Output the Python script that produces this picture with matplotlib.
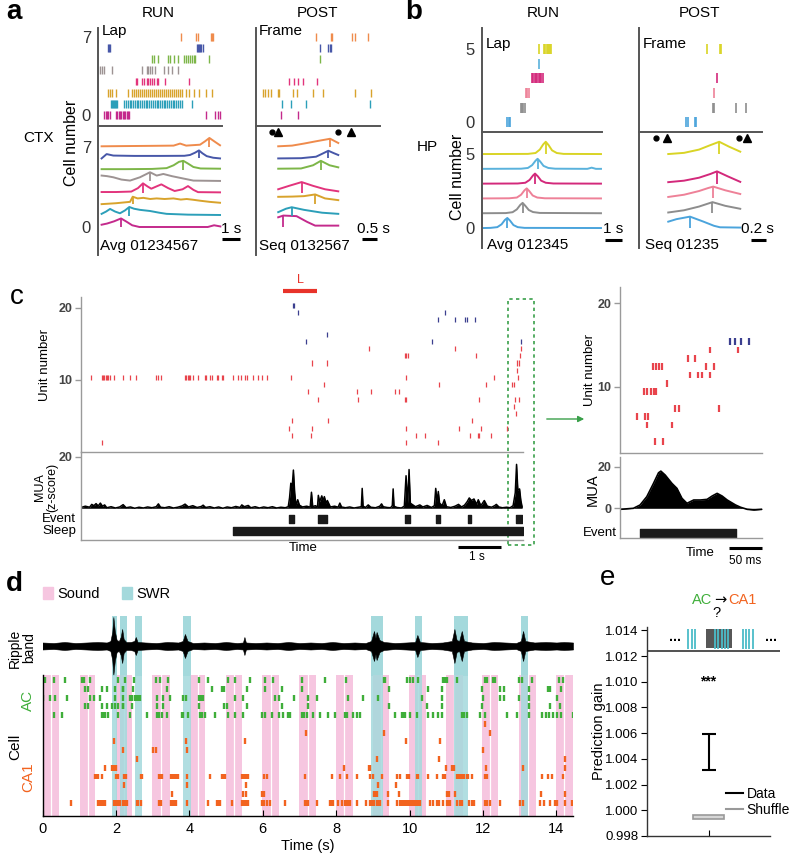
import numpy as np
import matplotlib.pyplot as plt
from matplotlib.lines import Line2D
from matplotlib.patches import Patch, Rectangle

plt.rcParams['font.family'] = ['Liberation Sans', 'DejaVu Sans']

W, H = 800, 856

# ================= a: CTX (time in s, rows = cell 0..7) =================
ctx_colors = ['#c42a8c', '#2c9fb9', '#d8a32c', '#e2347c', '#9d9393', '#7db648', '#4757a8', '#ef8b4c']

ctx_run_spikes = [
    [0.33, 0.42, 0.5, 0.58, 0.67, 1.0, 1.08, 1.15, 1.22, 1.3, 1.38, 1.45, 1.52, 1.6, 1.68, 1.75, 6.0, 6.5, 6.67, 6.78],
    [0.72, 0.78, 0.83, 0.89, 0.94, 1.0, 1.06, 1.44, 1.55, 1.64, 1.76, 1.85, 1.94, 2.06, 2.15, 2.24, 2.36, 2.45,
     2.56, 2.64, 2.75, 2.86, 2.95, 3.04, 3.15, 3.26, 3.35, 3.44, 3.55, 3.66, 3.75, 3.84, 3.96, 4.05, 4.14, 4.25,
     4.36, 4.45, 4.54, 4.66, 5.22],
    [0.56, 0.67, 0.78, 1.0, 1.67, 1.89, 2.0, 2.11, 2.22, 2.33, 2.44, 2.56, 2.67, 2.78, 2.89, 3.0, 3.11, 3.22, 3.33,
     3.44, 3.56, 3.67, 3.78, 3.89, 4.0, 4.11, 4.22, 4.33, 4.44, 4.56, 4.67, 4.89, 5.06, 5.33, 5.61, 6.0, 6.33],
    [2.11, 2.17, 2.44, 2.56, 2.72, 2.78, 2.89, 3.0, 3.11, 3.28, 3.33, 3.72, 5.06],
    [0.11, 0.22, 0.33, 0.78, 2.44, 2.72, 2.78, 2.89, 3.0, 3.17, 3.67, 3.89, 4.11, 4.44],
    [3.0, 3.11, 3.33, 3.89, 4.0, 4.22, 4.44, 4.78, 4.89, 5.0, 5.11, 5.22, 5.33, 5.39, 6.17],
    [0.56, 0.61, 0.67, 5.5, 5.56, 5.61, 5.67, 5.72, 5.83],
    [4.61, 5.44, 5.56, 6.28, 6.33, 6.39],
]
ctx_post_spikes = [
    [0.83, 1.41],
    [0.86, 1.17, 1.66, 3.8],
    [0.22, 0.3, 0.39, 0.5, 0.74, 0.78, 1.24, 1.36, 1.91, 2.24, 3.3, 3.83],
    [1.11, 1.27, 1.41, 1.58, 2.04],
    [],
    [2.14],
    [2.13, 2.41, 2.47, 2.5],
    [1.99, 2.5, 2.52, 3.21, 3.3, 3.72],
]
ctx_run_rows = [0, 1, 2, 3, 4, 5, 6, 7]
ctx_run_t = [
    [0.2, 0.5, 0.9, 1.28, 1.6, 1.9, 2.3, 6.1, 6.45, 6.8],
    [0.2, 0.45, 0.67, 0.95, 1.22, 1.5, 1.74, 2.0, 2.33, 2.89, 3.4, 3.81, 5.0, 6.78],
    [0.2, 1.0, 1.78, 1.93, 2.2, 2.52, 2.9, 3.26, 3.7, 4.19, 4.6, 4.93, 5.3, 5.67, 6.2, 6.78],
    [0.2, 1.0, 1.85, 2.22, 2.5, 2.75, 2.96, 3.25, 3.52, 3.9, 4.26, 4.7, 5.0, 5.3, 5.56, 6.78],
    [0.2, 0.5, 0.85, 1.3, 1.78, 2.33, 2.89, 3.26, 3.63, 4.1, 4.56, 5.3, 6.78],
    [0.2, 1.5, 3.0, 3.81, 4.2, 4.5, 4.74, 5.0, 5.3, 5.7, 6.78],
    [0.2, 0.48, 0.85, 2.0, 3.5, 4.8, 5.11, 5.39, 5.61, 5.8, 6.04, 6.4, 6.78],
    [0.2, 1.5, 3.0, 4.2, 4.56, 4.9, 5.67, 5.95, 6.19, 6.5, 6.78],
]
ctx_run_v = [
    [0.2, 0.3, 0.5, 0.75, 0.45, 0.15, 0.0, 0.0, 0.15, 0.05],
    [0.15, 0.35, 0.58, 0.35, 0.2, 0.45, 0.75, 0.6, 0.5, 0.4, 0.25, 0.15, 0.08, 0.05],
    [0.0, 0.08, 0.2, 0.65, 0.5, 0.55, 0.45, 0.5, 0.45, 0.5, 0.4, 0.45, 0.38, 0.3, 0.2, 0.12],
    [0.06, 0.06, 0.1, 0.4, 0.82, 0.55, 0.35, 0.55, 0.73, 0.4, 0.15, 0.3, 0.58, 0.25, 0.05, 0.03],
    [0.5, 0.45, 0.35, 0.15, 0.06, 0.35, 0.79, 0.5, 0.64, 0.45, 0.3, 0.06, 0.03],
    [0.06, 0.06, 0.08, 0.15, 0.4, 0.7, 0.79, 0.55, 0.25, 0.12, 0.1],
    [0.0, 0.38, 0.25, 0.22, 0.22, 0.23, 0.3, 0.5, 0.7, 0.45, 0.2, 0.06, 0.0],
    [0.06, 0.08, 0.1, 0.12, 0.3, 0.12, 0.2, 0.5, 0.79, 0.45, 0.15],
]
ctx_run_peaks = [1.28, 1.74, 1.93, 2.5, 2.89, 4.74, 5.61, 6.19]
ctx_post_rows = [0, 1, 2, 3, 5, 6, 7]
ctx_post_t = [
    [0.74, 0.91, 1.35, 1.7, 1.97, 2.74],
    [0.74, 1.0, 1.19, 1.6, 2.2, 2.74],
    [0.74, 1.2, 1.6, 1.97, 2.3, 2.74],
    [0.74, 1.1, 1.52, 1.9, 2.3, 2.74],
    [0.74, 1.5, 1.9, 2.16, 2.45, 2.74],
    [0.74, 1.5, 2.0, 2.2, 2.41, 2.6, 2.74],
    [0.74, 1.2, 1.6, 2.0, 2.47, 2.74],
]
ctx_post_v = [
    [0.85, 1.0, 0.95, 0.45, 0.12, 0.12],
    [0.3, 0.6, 0.73, 0.5, 0.25, 0.15],
    [0.64, 0.66, 0.7, 0.85, 0.5, 0.35],
    [0.3, 0.6, 0.93, 0.6, 0.3, 0.12],
    [0.1, 0.12, 0.4, 0.79, 0.4, 0.22],
    [0.0, 0.02, 0.15, 0.4, 0.67, 0.45, 0.3],
    [0.06, 0.12, 0.3, 0.5, 0.72, 0.35],
]
ctx_post_peaks = [0.91, 1.19, 1.97, 1.52, 2.16, 2.41, 2.47]
ctx_frame_dots = [0.52, 2.74]
ctx_frame_tris = [0.72, 3.17]

# ================= b: HP =================
hp_colors = ['#4ba4dc', '#8d8d8d', '#ee8198', '#d3297b', '#5ab2dc', '#d9d425']
hp_run_spikes = [
    [1.49, 1.57, 1.65],
    [2.27, 2.35, 2.43, 2.51],
    [2.59, 2.67, 2.75],
    [2.94, 3.02, 3.1, 3.18, 3.25, 3.33, 3.41, 3.49, 3.57],
    [3.35],
    [3.33, 3.65, 3.72, 3.8, 3.88, 3.94, 4.0, 4.08],
]
hp_post_spikes = [
    [0.63, 0.65, 0.74, 0.76],
    [0.99, 1.0, 1.3, 1.43],
    [1.0],
    [1.04],
    [],
    [0.9, 1.08, 1.09],
]
hp_run_rows = [0, 1, 2, 3, 4, 5]
hp_run_t = [
    [0.1, 0.5, 0.9, 1.15, 1.35, 1.49, 1.65, 1.85, 2.1, 2.5, 7.0],
    [0.1, 1.4, 1.8, 2.05, 2.25, 2.39, 2.55, 2.75, 3.0, 3.4, 7.0],
    [0.1, 1.6, 2.05, 2.3, 2.5, 2.63, 2.78, 2.98, 3.25, 3.7, 7.0],
    [0.1, 2.1, 2.55, 2.8, 3.0, 3.12, 3.28, 3.48, 3.75, 4.2, 7.0],
    [0.1, 2.3, 2.7, 2.95, 3.15, 3.27, 3.42, 3.62, 3.9, 4.3, 6.2, 6.45, 6.7, 7.0],
    [0.1, 2.7, 3.15, 3.4, 3.6, 3.75, 3.92, 4.12, 4.4, 4.8, 7.0],
]
hp_run_v = [
    [0.0, 0.01, 0.06, 0.25, 0.55, 0.68, 0.5, 0.2, 0.06, 0.01, 0.0],
    [0.0, 0.01, 0.07, 0.26, 0.56, 0.7, 0.5, 0.22, 0.08, 0.02, 0.0],
    [0.0, 0.01, 0.06, 0.25, 0.55, 0.68, 0.5, 0.2, 0.06, 0.01, 0.0],
    [0.0, 0.01, 0.06, 0.25, 0.55, 0.68, 0.5, 0.2, 0.06, 0.01, 0.0],
    [0.0, 0.01, 0.06, 0.25, 0.55, 0.68, 0.5, 0.2, 0.06, 0.01, 0.0, 0.08, 0.0, 0.0],
    [0.0, 0.01, 0.07, 0.3, 0.65, 0.83, 0.6, 0.25, 0.07, 0.01, 0.0],
]
hp_run_peaks = [1.49, 2.39, 2.63, 3.12, 3.27, 3.75]
hp_post_rows = [0, 1, 2, 3, 5]
hp_post_t = [
    [0.39, 0.5, 0.68, 0.85, 1.0, 1.08, 1.35],
    [0.39, 0.6, 0.8, 0.92, 0.98, 1.15, 1.35],
    [0.39, 0.6, 0.8, 0.92, 0.99, 1.15, 1.35],
    [0.39, 0.6, 0.8, 0.95, 1.04, 1.18, 1.35],
    [0.39, 0.6, 0.8, 0.95, 1.07, 1.2, 1.35],
]
hp_post_v = [
    [0.43, 0.6, 0.77, 0.45, 0.15, 0.05, 0.03],
    [0.05, 0.2, 0.45, 0.65, 0.75, 0.5, 0.3],
    [0.1, 0.25, 0.5, 0.7, 0.8, 0.55, 0.3],
    [0.1, 0.2, 0.4, 0.65, 0.83, 0.5, 0.12],
    [0.0, 0.08, 0.3, 0.6, 0.83, 0.5, 0.16],
]
hp_post_peaks = [0.68, 0.98, 0.99, 1.04, 1.07]
hp_frame_dots = [0.23, 1.34]
hp_frame_tris = [0.37, 1.44]

# ================= c: unit raster + MUA =================
c_units = [1, 2, 3, 4, 5, 6, 7, 8, 9, 10, 11, 12, 13, 14, 15, 16, 18, 19, 20]
c_spikes = [
    [0.5, 7.56, 8.3],
    [4.9, 5.35, 7.79, 8.0, 9.05, 9.23, 9.26, 9.53],
    [4.84, 5.37, 7.56, 8.79, 9.3, 9.91],
    [4.91, 5.75, 9.09],
    [10.12],
    [10.07],
    [5.52, 6.45, 7.53, 7.57, 9.26, 10.09, 10.18],
    [5.27, 6.41, 6.74, 7.3, 7.4],
    [5.66, 8.33, 9.41, 10.03, 10.07],
    [0.23, 0.48, 0.51, 0.54, 0.57, 0.6, 0.63, 0.67, 0.77, 0.98, 1.14, 1.27, 1.74, 1.8, 1.86, 2.42, 2.45, 2.48,
     2.51, 2.54, 2.61, 2.73, 2.88, 2.91, 3.0, 3.04, 3.16, 3.19, 3.27, 3.31, 3.54, 3.66, 3.72, 3.81, 3.85, 4.01,
     4.11, 4.2, 4.32, 4.88, 7.57, 9.6, 10.16],
    [10.14],
    [5.37, 5.71, 10.14, 10.18],
    [7.53, 7.57, 7.61, 9.19, 10.2],
    [6.7, 8.7, 10.23],
    [5.23, 8.16, 10.24],
    [5.71],
    [8.31, 8.71, 8.93, 8.97, 9.16],
    [5.05, 8.47],
    [4.92, 4.96],
]
mua = [(0.0, 0.3), (0.1, 0.8), (0.2, 0.4), (0.25, 1.5), (0.3, 1.0), (0.35, 1.8), (0.4, 0.9), (0.45, 2.0),
       (0.5, 0.8), (0.55, 1.3), (0.6, 0.2), (0.7, 0.6), (0.8, 0.1), (0.9, 0.5), (0.98, 1.4), (1.05, 0.2),
       (1.15, 0.5), (1.25, 0.0), (1.35, 0.4), (1.45, 0.1), (1.55, 0.5), (1.65, 0.2), (1.75, 0.6), (1.8, 1.7),
       (1.85, 0.4), (1.95, 0.2), (2.05, 0.6), (2.15, 0.1), (2.25, 0.4), (2.35, 0.9), (2.42, 1.6), (2.5, 0.5),
       (2.6, 1.0), (2.7, 0.3), (2.8, 0.7), (2.84, 1.2), (2.9, 0.3), (3.0, 0.6), (3.1, 0.1), (3.2, 0.5),
       (3.3, 0.0), (3.4, 0.5), (3.5, 0.2), (3.6, 0.7), (3.7, 0.3), (3.74, 1.3), (3.8, 0.6), (3.89, 1.1),
       (3.95, 0.2), (4.05, 0.6), (4.15, 0.1), (4.25, 0.5), (4.35, 0.2), (4.45, 0.6), (4.55, 0.1), (4.65, 0.4),
       (4.75, 0.2), (4.82, 0.6), (4.85, 4.0), (4.88, 9.7), (4.91, 8.0), (4.94, 14.8), (4.97, 6.0), (5.0, 1.0),
       (5.04, 3.3), (5.08, 1.2), (5.15, 0.5), (5.25, 0.8), (5.33, 0.4), (5.36, 6.2), (5.39, 0.6), (5.45, 1.0),
       (5.5, 0.5), (5.52, 5.0), (5.55, 2.5), (5.6, 4.8), (5.63, 3.0), (5.66, 4.5), (5.7, 2.0), (5.73, 3.0),
       (5.8, 0.5), (5.9, 0.8), (5.98, 0.4), (6.02, 2.0), (6.06, 0.5), (6.15, 0.2), (6.25, 0.5), (6.35, 0.1),
       (6.45, 0.4), (6.52, 0.6), (6.54, 7.7), (6.56, 0.8), (6.62, 0.3), (6.68, 1.3), (6.74, 0.4), (6.85, 0.2),
       (6.95, 0.8), (6.99, 1.7), (7.03, 0.6), (7.12, 0.3), (7.2, 0.2), (7.24, 1.0), (7.26, 7.5), (7.28, 0.8),
       (7.35, 0.3), (7.45, 0.1), (7.52, 0.8), (7.56, 12.6), (7.6, 2.0), (7.63, 15.0), (7.66, 2.0), (7.7, 1.5),
       (7.78, 0.6), (7.88, 1.3), (7.95, 0.5), (8.05, 1.1), (8.15, 0.3), (8.22, 1.0), (8.25, 7.7), (8.28, 2.5),
       (8.31, 6.5), (8.34, 2.0), (8.4, 1.0), (8.45, 3.3), (8.5, 0.6), (8.6, 0.3), (8.7, 0.8), (8.78, 1.5),
       (8.85, 0.5), (8.92, 1.2), (8.98, 2.5), (9.03, 4.0), (9.08, 3.0), (9.14, 3.6), (9.2, 1.5), (9.24, 3.3),
       (9.3, 1.0), (9.38, 3.0), (9.45, 0.8), (9.55, 0.4), (9.62, 1.0), (9.66, 1.5), (9.72, 0.5), (9.8, 0.2),
       (9.9, 0.4), (9.98, 0.2), (10.05, 1.0), (10.1, 6.0), (10.13, 17.0), (10.16, 7.0), (10.2, 7.5),
       (10.23, 3.0), (10.26, 0.5)]
event_on = [4.84, 5.52, 7.53, 8.25, 9.01, 10.12]
event_off = [4.95, 5.71, 7.65, 8.35, 9.07, 10.26]
sleep_on, sleep_off = 3.53, 10.28
laser_on, laser_off = 4.70, 5.49

# inset (time in ms)
ins_units = [3, 5, 6, 7, 9, 10, 11, 12, 13, 14, 15]
ins_spikes = [[52.5, 63.5], [41, 77.5], [25, 37.5, 42.5], [82.5, 87.5, 147.5], [36, 41, 46, 51, 54], [70],
              [105, 116, 122.5, 135], [50, 53.5, 57.5, 62.5, 128.5, 140], [101, 112.5], [135, 176],
              [163.5, 171, 180, 192.5]]
ins_mua = [(0, -0.5), (20, 0), (30, 1.6), (40, 5.6), (50, 12), (57.5, 17.1), (61, 17.9), (67.5, 16),
           (77.5, 12), (85, 9.6), (92.5, 4.8), (100, 2.4), (110, 4), (120, 4), (130, 4.3), (137.5, 5.9),
           (145, 7.2), (152.5, 5.9), (160, 4), (172.5, 1.6), (180, 0.5), (190, -0.5), (200, -0.8), (212, -0.5)]
ins_event = (30, 172.5)

# ================= d: sound / SWR / raster =================
sound_on = [0.0, 1.02, 2.0, 2.99, 4.02, 5.01, 5.99, 6.99, 8.0, 8.99, 9.99, 10.99, 11.98, 12.99, 13.99]
sound_off = [0.45, 1.44, 2.45, 3.46, 4.43, 5.43, 6.45, 7.45, 8.45, 9.43, 10.45, 11.45, 12.42, 13.45, 14.44]
swr_on = [1.89, 2.12, 2.51, 3.83, 8.96, 10.15, 11.2, 13.02]
swr_off = [2.04, 2.31, 2.72, 4.04, 9.28, 10.35, 11.58, 13.22]
ripple = [(0.0, 3.5), (0.3, 3), (0.6, 4), (0.9, 3), (1.2, 3.5), (1.5, 4), (1.75, 3.5), (1.85, 5), (1.9, 14),
          (1.93, 29), (1.97, 15), (2.02, 6), (2.08, 5), (2.13, 9), (2.17, 17), (2.21, 7), (2.28, 4), (2.4, 4),
          (2.5, 5), (2.54, 9), (2.59, 4), (2.8, 3.5), (3.1, 3), (3.4, 4), (3.7, 3.5), (3.82, 5), (3.88, 12),
          (3.95, 5), (4.1, 3), (4.4, 3.5), (4.7, 3), (5.0, 4), (5.3, 3), (5.46, 3.5), (5.5, 9), (5.54, 3.5),
          (5.8, 3), (6.1, 3.5), (6.4, 3), (6.7, 4), (7.0, 3), (7.3, 3.5), (7.6, 3), (7.9, 4), (8.2, 3),
          (8.5, 3.5), (8.8, 3), (8.95, 5), (9.03, 15), (9.07, 8), (9.1, 14), (9.18, 6), (9.3, 4), (9.6, 3),
          (9.9, 3.5), (10.15, 4), (10.21, 11), (10.28, 4), (10.6, 3), (10.9, 3.5), (11.15, 5), (11.22, 17),
          (11.28, 6), (11.35, 5), (11.42, 15), (11.48, 5), (11.7, 3.5), (12.0, 3), (12.3, 4), (12.6, 3.5),
          (12.9, 3), (13.03, 5), (13.09, 15), (13.15, 5), (13.4, 3.5), (13.7, 4), (14.0, 3.5), (14.2, 4),
          (14.45, 3.5)]
ac_spikes = [  # top row first
    [0.07, 0.32, 0.61, 1.07, 1.13, 1.29, 2.07, 2.25, 2.49, 3.08, 3.2, 3.43, 4.26, 4.52, 5.06, 5.25, 5.65, 6.06,
     6.27, 7.06, 7.7, 8.27, 9.29, 9.33, 9.92, 10.01, 10.09, 10.24, 10.9, 10.97, 11.03, 11.29, 12.06, 12.1,
     12.28, 12.33, 12.99, 13.07, 13.32, 14.06, 14.19],
    [1.16, 1.25, 1.61, 1.75, 1.98, 2.18, 2.2, 2.47, 3.38, 4.61, 4.88, 4.95, 5.56, 6.06, 6.52, 7.06, 9.45, 10.51,
     10.88, 11.97, 12.47, 12.56, 13.24, 13.76, 13.81, 14.12],
    [0.02, 0.2, 0.34, 0.66, 1.29, 1.41, 1.57, 1.98, 2.2, 2.38, 2.43, 2.52, 2.57, 2.61, 2.66, 3.11, 3.29, 3.47,
     3.84, 3.9, 4.25, 4.31, 4.38, 5.25, 5.47, 6.34, 6.45, 6.84, 7.24, 7.47, 8.33, 8.72, 9.15, 10.33, 10.88,
     12.01, 12.47, 12.56, 12.99, 13.24, 14.01],
    [1.16, 1.25, 1.61, 1.75, 1.88, 1.98, 2.07, 2.18, 2.2, 2.43, 3.11, 3.29, 4.25, 4.95, 5.02, 5.56, 6.52, 7.24,
     9.45, 10.47, 10.88, 11.97, 13.24, 13.81, 14.1],
    [0.3, 0.52, 1.61, 1.66, 1.7, 1.79, 2.07, 2.38, 2.84, 3.11, 3.17, 3.25, 3.38, 3.79, 3.84, 3.97, 4.29, 4.34,
     4.43, 4.7, 5.06, 5.25, 5.47, 5.97, 6.06, 6.24, 6.43, 6.56, 6.7, 6.74, 7.06, 7.11, 7.2, 7.38, 7.56, 7.79,
     7.97, 8.24, 8.29, 8.47, 8.56, 8.65, 9.6, 9.79, 9.83, 9.88, 10.01, 10.19, 10.51, 10.65, 10.78, 10.88,
     11.42, 11.47, 11.56, 11.92, 12.06, 12.65, 12.92, 13.24, 13.6, 13.71, 13.79, 13.91, 14.01, 14.12, 14.44],
]
ca1_spikes = [  # top row first
    [12.06],
    [7.18, 9.3, 12.19],
    [1.96, 3.9, 5.52, 9.9, 10.83],
    [2.18, 3.02, 3.09, 3.94, 12.01],
    [2.57, 9.12, 10.81, 14.22],
    [1.7, 1.9, 1.96, 2.0, 8.2, 8.88, 8.92, 11.0, 11.15, 11.2, 12.09, 13.09, 14.22],
    [1.43, 1.48, 1.52, 1.61, 1.99, 2.05, 2.23, 2.27, 2.68, 2.72, 3.16, 3.2, 3.25, 3.5, 3.55, 3.59, 3.64, 3.68,
     3.93, 4.56, 4.9, 4.95, 4.97, 5.44, 5.49, 5.54, 5.59, 6.04, 6.11, 7.15, 7.88, 8.11, 8.29, 8.56, 8.92, 9.0,
     9.24, 9.65, 9.74, 9.92, 9.97, 10.19, 10.24, 10.51, 10.74, 10.92, 10.97, 11.29, 11.33, 11.38, 11.42,
     11.47, 11.56, 11.6, 11.69, 12.06, 12.1, 13.6, 13.76, 13.89, 14.19],
    [2.23, 3.93, 5.54, 9.15, 9.63],
    [3.52, 5.47, 5.54, 5.97, 6.04, 9.03, 9.09, 9.12, 9.42, 9.72, 11.01, 11.06, 11.24, 13.57, 14.22],
    [0.78, 1.52, 1.57, 1.61, 1.66, 1.7, 1.96, 1.99, 2.05, 2.11, 2.18, 2.25, 2.29, 2.57, 2.61, 2.68, 3.16, 3.23,
     3.5, 3.54, 3.59, 3.63, 3.93, 4.52, 4.75, 4.79, 4.84, 5.15, 5.44, 5.5, 5.54, 5.59, 5.97, 6.04, 6.11, 6.2,
     6.61, 7.15, 7.2, 7.24, 7.47, 7.82, 7.88, 7.92, 8.06, 8.15, 8.24, 8.29, 8.33, 8.38, 8.58, 8.82, 8.92, 8.97,
     9.02, 9.11, 9.15, 9.2, 9.42, 9.65, 9.74, 9.79, 9.83, 9.88, 9.92, 9.97, 10.01, 10.06, 10.1, 10.15, 10.19,
     10.24, 10.29, 10.56, 10.65, 10.74, 10.79, 10.92, 11.01, 11.06, 11.1, 11.29, 11.36, 11.42, 11.63, 11.69,
     11.74, 12.06, 12.1, 12.19, 12.47, 13.0, 13.1, 13.55, 13.65, 13.81, 13.96, 14.01, 14.22, 14.42],
]
d_xticks = [0, 2, 4, 6, 8, 10, 12, 14]

# ================= e: prediction gain =================
data_low, data_high = 1.0031, 1.0059
shuffle_low, shuffle_high = 0.99932, 0.99966
e_yticks = [0.998, 1.000, 1.002, 1.004, 1.006, 1.008, 1.010, 1.012, 1.014]
stars_y = 1.0100
swr_marks_x = [-0.33, -0.27, -0.22, 0.106, 0.16, 0.215, 0.27, 0.32, 0.556, 0.61, 0.66, 0.72]
sound_box_x = (-0.04, 0.377)

# ---------------------------------------------------------------------------
fig = plt.figure(figsize=(8, 8.56), dpi=100)


def px_axes(x0, y0, x1, y1):
    ax = fig.add_axes([x0 / W, 1 - y1 / H, (x1 - x0) / W, (y1 - y0) / H])
    ax.patch.set_alpha(0)
    return ax


def px_text(x, y, s, **kw):
    kw.setdefault('va', 'center')
    fig.text(x / W, 1 - y / H, s, **kw)


def keep_spines(ax, sides, color='#555555', lw=1.4):
    for side in ['left', 'right', 'top', 'bottom']:
        ax.spines[side].set_visible(side in sides)
        ax.spines[side].set_color(color)
        ax.spines[side].set_linewidth(lw)
    ax.set_xticks([])
    ax.set_yticks([])


def draw_raster(ax, spikes, colors, h, lw):
    for row, times in enumerate(spikes):
        if times:
            ax.vlines(times, row - h / 2, row + h / 2, color=colors[row], lw=lw)


def draw_traces(ax, rows, ts, vs, peaks, colors):
    for r, t, v, p in zip(rows, ts, vs, peaks):
        ax.plot(t, np.array(v) + r, color=colors[r], lw=1.4)
        ax.vlines(p, r, r + np.interp(p, t, v), color=colors[r], lw=1.3)


def seq_panel(xr, xp, y_top, y_sep, y_bot, run_xmax, post_xmax, r_ylim, t_ylim, yt,
              run_spikes, post_spikes, colors, h, lw,
              run_rows, run_t, run_v, run_peaks, post_rows, post_t, post_v, post_peaks,
              dots, tris, marker_y, bar_y, run_bar, post_bar):
    for (x0, x1), xmax, spikes, rows, ts, vs, pk, bar in [
            (xr, run_xmax, run_spikes, run_rows, run_t, run_v, run_peaks, run_bar),
            (xp, post_xmax, post_spikes, post_rows, post_t, post_v, post_peaks, post_bar)]:
        axr = px_axes(x0, y_top, x1, y_sep)
        keep_spines(axr, ['left', 'bottom'])
        axr.set_xlim(0, xmax)
        axr.set_ylim(*r_ylim)
        draw_raster(axr, spikes, colors, h, lw)
        axt = px_axes(x0, y_sep, x1, y_bot)
        keep_spines(axt, ['left'])
        axt.set_xlim(0, xmax)
        axt.set_ylim(*t_ylim)
        draw_traces(axt, rows, ts, vs, pk, colors)
        axt.plot(bar, [bar_y, bar_y], color='k', lw=2.2, clip_on=False, solid_capstyle='butt')
        if x0 == xr[0]:
            for a in (axr, axt):
                a.set_yticks([0, yt])
                a.tick_params(axis='y', length=0, pad=5, labelsize=12, labelcolor='#333333')
        else:
            axt.plot(dots, [marker_y] * len(dots), 'o', color='k', ms=3.5, clip_on=False)
            axt.plot(tris, [marker_y] * len(tris), '^', color='k', ms=6, clip_on=False)


# ---------- a ----------
seq_panel((98, 222), (256, 380), 28, 125.5, 255, 6.89, 4.13, (-0.94, 7.78), (-2.45, 8.88), 7,
          ctx_run_spikes, ctx_post_spikes, ctx_colors, 0.7, 1.0,
          ctx_run_rows, ctx_run_t, ctx_run_v, ctx_run_peaks, ctx_post_rows, ctx_post_t, ctx_post_v,
          ctx_post_peaks, ctx_frame_dots, ctx_frame_tris, 8.31, -1.05, [6.89, 7.89], [3.53, 4.03])
px_text(6, 12, 'a', fontsize=20, fontweight='bold')
px_text(158, 13, 'RUN', ha='center', fontsize=11)
px_text(318, 13, 'POST', ha='center', fontsize=11)
px_text(102, 31, 'Lap', fontsize=11)
px_text(259, 31, 'Frame', fontsize=11)
px_text(100, 246, 'Avg 01234567', fontsize=11)
px_text(259, 246, 'Seq 0132567', fontsize=11)
px_text(231, 229, '1 s', ha='center', fontsize=11)
px_text(373, 229, '0.5 s', ha='center', fontsize=11)
px_text(72, 143, 'Cell number', rotation=90, ha='center', fontsize=11.5)
px_text(38, 138, 'CTX', ha='center', fontsize=11)

# ---------- b ----------
seq_panel((482, 602), (639, 762), 28, 132, 248, 7.06, 1.64, (-0.66, 6.43), (-1.35, 6.49), 5,
          hp_run_spikes, hp_post_spikes, hp_colors, 0.68, 1.2,
          hp_run_rows, hp_run_t, hp_run_v, hp_run_peaks, hp_post_rows, hp_post_t, hp_post_v,
          hp_post_peaks, hp_frame_dots, hp_frame_tris, 6.08, -0.81, [7.24, 8.24], [1.5, 1.7])
px_text(405, 12, 'b', fontsize=20, fontweight='bold')
px_text(543, 13, 'RUN', ha='center', fontsize=11)
px_text(700, 13, 'POST', ha='center', fontsize=11)
px_text(486, 44, 'Lap', fontsize=11)
px_text(643, 44, 'Frame', fontsize=11)
px_text(487, 245, 'Avg 012345', fontsize=11)
px_text(645, 245, 'Seq 01235', fontsize=11)
px_text(613, 229, '1 s', ha='center', fontsize=11)
px_text(757, 229, '0.2 s', ha='center', fontsize=11)
px_text(457, 177, 'Cell number', rotation=90, ha='center', fontsize=11.5)
px_text(427, 147, 'HP', ha='center', fontsize=11)

# ---------- c ----------
red, navy, green_c = '#e8444c', '#3b3f8f', '#3aa04a'
grey_sp = '#9a9a9a'


def c_ticks(ax, ticks):
    ax.set_yticks(ticks)
    ax.tick_params(axis='y', direction='out', length=4, width=1, color=grey_sp, pad=2,
                   labelsize=9, labelcolor='#444444')
    for lab in ax.get_yticklabels():
        lab.set_fontweight('bold')


c_r = px_axes(81, 297, 523, 452)
keep_spines(c_r, ['left', 'bottom'], grey_sp, 1.0)
c_r.set_xlim(0, 10.28)
c_r.set_ylim(0.04, 21.48)
for u, times in zip(c_units, c_spikes):
    c_r.vlines(times, u, u + 0.7, color=navy if u >= 15 else red, lw=0.9)
c_ticks(c_r, [10, 20])
c_r.plot([laser_on, laser_off], [22.3, 22.3], color='#e8332a', lw=3, clip_on=False, solid_capstyle='butt')
c_r.text((laser_on + laser_off) / 2, 23.8, 'L', color='#e8332a', ha='center', va='center', fontsize=9)
c_r.add_patch(Rectangle((9.93, -12.8), 0.6, 34.0, fill=False, ec=green_c, lw=1.2, ls=(0, (2, 2)),
                        clip_on=False))

c_m = px_axes(81, 452, 523, 540)
keep_spines(c_m, ['left', 'bottom'], grey_sp, 1.0)
c_m.set_xlim(0, 10.28)
c_m.set_ylim(-12.3, 21.8)
mua_t, mua_z = np.array(mua).T
c_m.fill_between(mua_t, mua_z, 0, color='k', lw=0)
c_m.plot(mua_t, mua_z, color='k', lw=1.1)
c_m.broken_barh([(a, b - a) for a, b in zip(event_on, event_off)], (-5.7, 3.1), color='#1a1a1a')
c_m.broken_barh([(sleep_on, sleep_off - sleep_on)], (-10.3, 3.2), color='#1a1a1a')
c_ticks(c_m, [20])
c_m.plot([8.77, 9.77], [-15.2, -15.2], color='k', lw=2.2, clip_on=False, solid_capstyle='butt')

px_text(10, 297, 'c', fontsize=20)
px_text(45, 365, 'Unit number', rotation=90, ha='center', fontsize=9.5)
px_text(46, 487, 'MUA\n(z-score)', rotation=90, ha='center', fontsize=9, linespacing=1.0)
px_text(76, 519, 'Event', ha='right', fontsize=9.5)
px_text(76, 531, 'Sleep', ha='right', fontsize=9.5)
px_text(303, 548, 'Time', ha='center', fontsize=9.5)
px_text(477, 557, '1 s', ha='center', fontsize=8.5)

c_r.annotate('', xy=(587, H - 419), xycoords='figure pixels', xytext=(544, H - 419),
             textcoords='figure pixels',
             arrowprops=dict(arrowstyle='-|>', color=green_c, lw=1.0, mutation_scale=9))

# inset
c_ir = px_axes(620, 287, 762, 453)
keep_spines(c_ir, ['left', 'bottom'], grey_sp, 1.0)
c_ir.set_xlim(0, 212)
c_ir.set_ylim(2.04, 21.96)
for u, times in zip(ins_units, ins_spikes):
    c_ir.vlines(times, u, u + 0.8, color=navy if u >= 15 else red, lw=1.6)
c_ticks(c_ir, [10, 20])

c_im = px_axes(620, 457, 762, 538)
keep_spines(c_im, ['left', 'bottom'], grey_sp, 1.0)
c_im.set_xlim(0, 212)
c_im.set_ylim(-14.3, 24.7)
ins_t, ins_z = np.array(ins_mua).T
c_im.fill_between(ins_t, ins_z, 0, color='k', lw=0)
c_im.plot(ins_t, ins_z, color='k', lw=1.2)
c_im.broken_barh([(ins_event[0], ins_event[1] - ins_event[0])], (-14.1, 4.15), color='#1a1a1a')
c_ticks(c_im, [0, 20])
c_im.plot([162, 212], [-19.1, -19.1], color='k', lw=2.2, clip_on=False, solid_capstyle='butt')
px_text(590, 370, 'Unit number', rotation=90, ha='center', fontsize=9.5)
px_text(593, 490, 'MUA', rotation=90, ha='center', fontsize=10.5)
px_text(617, 533, 'Event', ha='right', fontsize=9.5)
px_text(700, 553, 'Time', ha='center', fontsize=9.5)
px_text(745, 561, '50 ms', ha='center', fontsize=8.5)

# ---------- d ----------
pink, cyan = '#f6c6e0', '#a4d9dc'
ac_col, ca1_col = '#3fae3a', '#f2631f'

d_rip = px_axes(42.5, 616, 573, 676)
keep_spines(d_rip, [])
d_rip.set_xlim(0, 14.45)
d_rip.set_ylim(-30, 30)
d_r = px_axes(42.5, 675, 573, 816)
keep_spines(d_r, ['left', 'bottom'], 'k', 1.0)
d_r.set_xlim(0, 14.45)
d_r.set_ylim(-1.5, 14.57)

for on, off in zip(sound_on, sound_off):
    d_r.axvspan(on, off, color=pink, lw=0, zorder=0)
    d_r.axvline((on + off) / 2, color='white', lw=0.9, zorder=0.5)
for on, off in zip(swr_on, swr_off):
    d_rip.axvspan(on, off, color=cyan, lw=0, zorder=0)
    d_r.axvspan(on, off, color=cyan, lw=0, zorder=0.7, alpha=0.85)

rip_t, rip_a = np.array(ripple).T
d_rip.fill_between(rip_t, -rip_a, rip_a, color='k', lw=0.4)

n_rows = len(ac_spikes) + len(ca1_spikes)
for i, times in enumerate(ac_spikes + ca1_spikes):
    row = n_rows - 1 - i
    d_r.vlines(times, row - 0.34, row + 0.34, color=ac_col if i < len(ac_spikes) else ca1_col, lw=1.7,
               zorder=2)
d_r.set_xticks(d_xticks)
d_r.tick_params(axis='x', direction='in', length=4, labelsize=10.5, pad=4)

fig.legend(handles=[Patch(color=pink), Patch(color=cyan)], labels=['Sound', 'SWR'], loc='center left',
           bbox_to_anchor=(43 / W, 1 - 594 / H), ncol=2, frameon=False, handlelength=0.7,
           handleheight=0.8, handletextpad=0.3, columnspacing=1.5, fontsize=10.5,
           borderpad=0, borderaxespad=0)
px_text(6, 584, 'd', fontsize=20, fontweight='bold')
px_text(22, 648, 'Ripple\nband', rotation=90, ha='center', fontsize=10, linespacing=0.95)
px_text(28, 700, 'AC', rotation=90, ha='center', fontsize=11, color=ac_col)
px_text(15, 747, 'Cell', rotation=90, ha='center', fontsize=11)
px_text(28, 777, 'CA1', rotation=90, ha='center', fontsize=11, color=ca1_col)
px_text(308, 846, 'Time (s)', ha='center', fontsize=10.5)

# ---------- e ----------
e_ax = px_axes(647, 627, 770, 836)
keep_spines(e_ax, ['left', 'bottom'], '#333333', 1.0)
e_ax.set_xlim(-1, 1)
e_ax.set_ylim(0.998, 1.01426)
e_ax.set_yticks(e_yticks)
e_ax.set_yticklabels(['%.3f' % v for v in e_yticks])
e_ax.tick_params(axis='y', direction='out', length=4, labelsize=9.5, pad=2)
e_ax.set_xticks([0])
e_ax.set_xticklabels([''])
e_ax.tick_params(axis='x', direction='in', length=4)

e_ax.hlines(1.0124, -1, 1.17, color='#333333', lw=1.2, clip_on=False)
e_ax.add_patch(Rectangle((sound_box_x[0], 1.01264), sound_box_x[1] - sound_box_x[0], 0.00147,
                         color='#575757', lw=0))
e_ax.vlines(swr_marks_x, 1.01255, 1.01411, color='#4bbcc8', lw=1.3)
e_ax.text(-0.545, 1.0135, '...', ha='center', va='center', fontsize=10, fontweight='bold')
e_ax.text(1.02, 1.0135, '...', ha='center', va='center', fontsize=10, fontweight='bold', clip_on=False)

mid = (data_low + data_high) / 2
e_ax.errorbar([0], [mid], yerr=[[mid - data_low], [data_high - mid]], fmt='none', ecolor='k',
              elinewidth=1.5, capsize=5, capthick=1.5)
e_ax.bar(0, shuffle_high - shuffle_low, bottom=shuffle_low, width=0.49, color='#d6d6d6',
         edgecolor='#999999', lw=1.2)
e_ax.text(0, stars_y, '***', ha='center', va='center', fontsize=10, fontweight='bold')
e_ax.legend(handles=[Line2D([], [], color='k', lw=1.5), Line2D([], [], color='#999999', lw=1.5)],
            labels=['Data', 'Shuffle'], loc='lower right', bbox_to_anchor=(1.22, 0.06), frameon=False,
            fontsize=10, handlelength=1.2, handletextpad=0.3, labelspacing=0.1, borderpad=0)

px_text(600, 578, 'e', fontsize=20)
px_text(712, 600, 'AC', ha='right', fontsize=10.5, color=ac_col)
px_text(720, 600, '\u2192', ha='center', fontsize=10.5, family='DejaVu Sans')
px_text(728, 600, 'CA1', ha='left', fontsize=10.5, color=ca1_col)
px_text(716, 613, '?', ha='center', fontsize=10.5)
px_text(599, 731, 'Prediction gain', rotation=90, ha='center', fontsize=10.5)

fig.savefig('out.png', dpi=100)
